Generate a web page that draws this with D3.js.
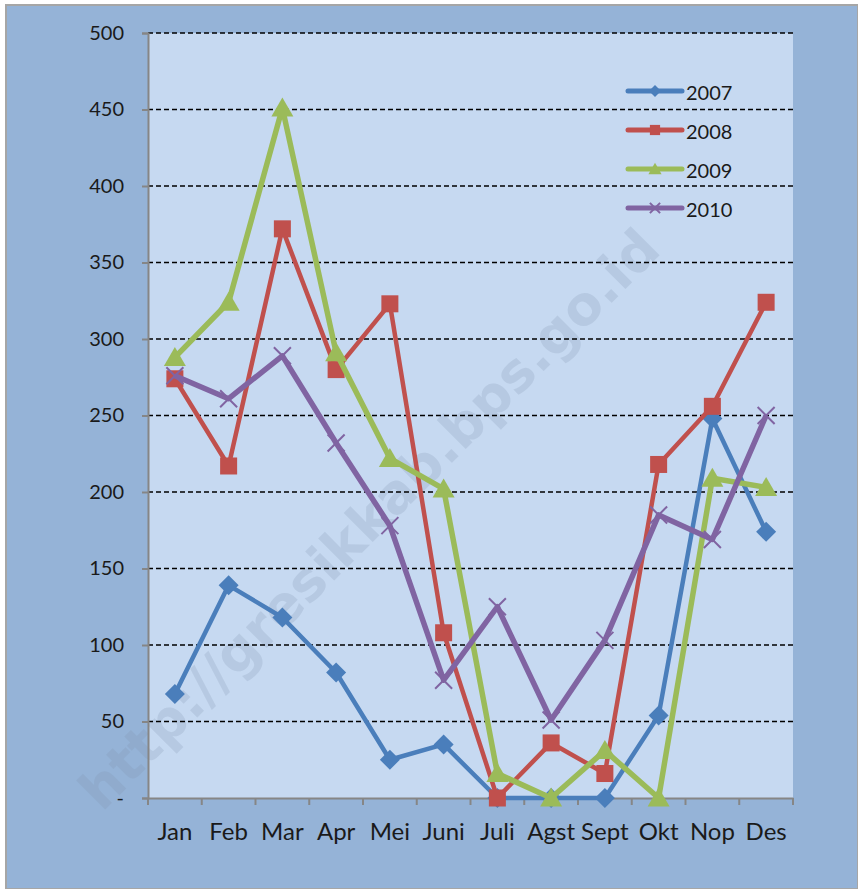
<!DOCTYPE html>
<html><head><meta charset="utf-8">
<script src="https://cdn.jsdelivr.net/npm/d3@7"></script>
<style>body{margin:0;background:#fff}svg{display:block}</style>
</head><body>
<svg id="c" width="858" height="889"></svg>
<script>
const months = ["Jan","Feb","Mar","Apr","Mei","Juni","Juli","Agst","Sept","Okt","Nop","Des"];
const s2007 = [68,139,118,82,25,35,0,0,0,54,248,174];
const s2008 = [274,217,372,280,323,108,0,36,16,218,256,324];
const s2009 = [288,324,451,291,222,202,16,0,31,0,209,203];
const s2010 = [276,261,289,232,178,77,125,51,103,185,169,250];
const yTicks = [0,50,100,150,200,250,300,350,400,450,500];
const series = [
  {name:"2007", values:s2007, color:"#4A7EBB", width:4.5, marker:"diamond"},
  {name:"2008", values:s2008, color:"#C0504D", width:4.5, marker:"square"},
  {name:"2009", values:s2009, color:"#9BBB59", width:5.5, marker:"triangle"},
  {name:"2010", values:s2010, color:"#8064A2", width:5.5, marker:"x"}
];

const svg = d3.select("#c");
const font = "Lato, 'Open Sans', sans-serif";
svg.append("rect").attr("x",6).attr("y",5).attr("width",852).attr("height",884)
  .attr("fill","#95B3D7").attr("stroke","#A6A6A6").attr("stroke-width",2);

const L=148, R=793, T=33, B=798;
const x = d3.scaleBand().domain(months).range([L,R]);
const y = d3.scaleLinear().domain([0,500]).range([B,T]);

svg.append("rect").attr("x",L).attr("y",T).attr("width",R-L).attr("height",B-T).attr("fill","#C6D9F1");

// watermark
svg.append("text").text("http://gresikkab.bps.go.id")
  .attr("transform","translate(372,522) rotate(-45)")
  .attr("text-anchor","middle").attr("dominant-baseline","middle")
  .attr("font-family","'DejaVu Sans', sans-serif").attr("font-weight","bold")
  .attr("font-size",54).attr("fill","#7F93AE").attr("fill-opacity",0.22);

// gridlines
svg.append("g").selectAll("line").data(yTicks.filter(d=>d>0)).join("line")
  .attr("x1",L).attr("x2",R).attr("y1",d=>y(d)).attr("y2",d=>y(d))
  .attr("stroke","#000").attr("stroke-width",1.6).attr("stroke-dasharray","5,3");

// y axis
const ya = svg.append("g").attr("transform",`translate(${L},0)`)
  .call(d3.axisLeft(y).tickValues(yTicks).tickSize(6).tickPadding(18).tickFormat(d=>d===0?"-":d));
ya.select(".domain").attr("stroke","#868686").attr("stroke-width",2);
ya.selectAll(".tick line").attr("stroke","#868686").attr("stroke-width",2);
ya.selectAll("text").attr("font-family",font).attr("font-size",20).attr("fill","#1a1a1a");

// x axis
const xa = svg.append("g").attr("transform",`translate(0,${B})`)
  .call(d3.axisBottom(x).tickSize(0).tickPadding(25));
xa.select(".domain").attr("stroke","#868686").attr("stroke-width",2);
xa.selectAll("text").attr("font-family",font).attr("font-size",24).attr("fill","#1a1a1a");
const bounds = months.map(m=>x(m)).concat([R]);
xa.selectAll(".bt").data(bounds).join("line").attr("class","bt")
  .attr("x1",d=>d).attr("x2",d=>d).attr("y1",0).attr("y2",7)
  .attr("stroke","#868686").attr("stroke-width",2);

const cx = m => x(m)+x.bandwidth()/2;
function marker(g, type, color, px, py, k){
  if(type==="diamond"){
    const r=10*k;
    g.append("path").attr("d",`M${px},${py-r}L${px+r},${py}L${px},${py+r}L${px-r},${py}Z`).attr("fill",color);
  } else if(type==="square"){
    const h=8.5*k;
    g.append("rect").attr("x",px-h).attr("y",py-h).attr("width",2*h).attr("height",2*h).attr("fill",color);
  } else if(type==="triangle"){
    const w=11*k, h=19*k;
    g.append("path").attr("d",`M${px},${py-h*0.55}L${px+w},${py+h*0.45}L${px-w},${py+h*0.45}Z`).attr("fill",color);
  } else {
    const r=8.5*k;
    g.append("path").attr("d",`M${px-r},${py-r}L${px+r},${py+r}M${px-r},${py+r}L${px+r},${py-r}`)
      .attr("stroke",color).attr("stroke-width",2).attr("fill","none");
  }
}

const line = d3.line().x((d,i)=>cx(months[i])).y(d=>y(d));
series.forEach(s=>{
  const g = svg.append("g");
  g.append("path").attr("d",line(s.values)).attr("fill","none").attr("stroke",s.color)
    .attr("stroke-width",s.width).attr("stroke-linejoin","round");
  s.values.forEach((v,i)=>marker(g,s.marker,s.color,cx(months[i]),y(v),1));
});

// legend
const lg = svg.append("g");
series.forEach((s,i)=>{
  const ly = 91 + i*39;
  lg.append("line").attr("x1",628).attr("x2",682).attr("y1",ly).attr("y2",ly)
    .attr("stroke",s.color).attr("stroke-width",5).attr("stroke-linecap","round");
  marker(lg,s.marker,s.color,655,ly,0.6);
  lg.append("text").text(s.name).attr("x",686).attr("y",ly+1).attr("dominant-baseline","central")
    .attr("font-family",font).attr("font-size",20).attr("fill","#1a1a1a");
});
</script>
</body></html>
